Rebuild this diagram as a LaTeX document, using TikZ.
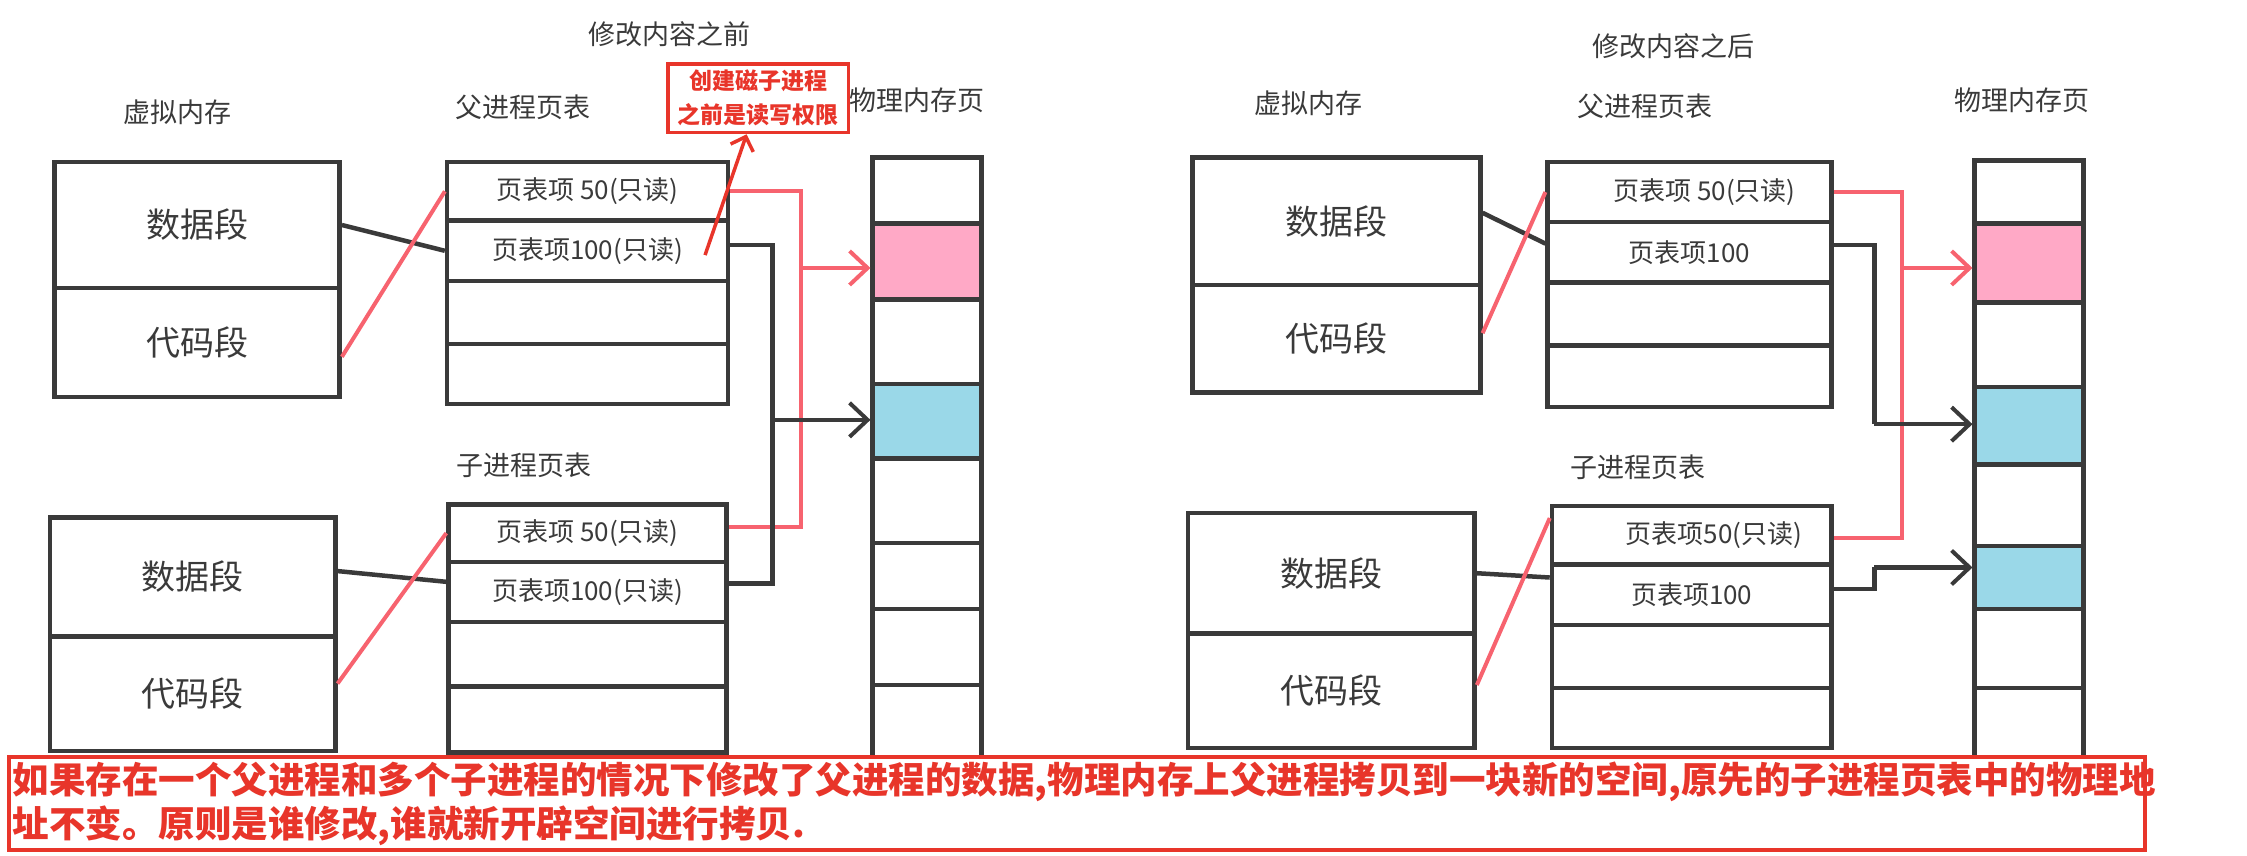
\documentclass[tikz,border=0pt]{standalone}
\usepackage{fontspec}
\setmainfont{Noto Sans CJK SC}
\usetikzlibrary{arrows.meta}
\definecolor{memink}{HTML}{3A3A3A}
\definecolor{linkred}{HTML}{F7636F}
\definecolor{notered}{HTML}{E8352A}
\definecolor{pagepink}{HTML}{FFA9C6}
\definecolor{pageblue}{HTML}{9AD8E8}
\newcommand\headfont{\fontsize{27}{32}\selectfont}
\newcommand\segfont{\fontsize{34}{38}\selectfont}
\newcommand\entryfont{\fontsize{26}{30}\selectfont}
\newcommand\notefont{\fontsize{23}{34}\selectfont\bfseries}
\newcommand\sumfont{\fontsize{36.5}{44}\selectfont\bfseries}
\tikzset{
  cell/.style={draw=memink, line width=4.5pt, inner sep=0pt, text=memink},
  head/.style={font=\headfont, text=memink},
  blackline/.style={draw=memink, line width=4.5pt},
  redline/.style={draw=linkred, line width=4pt},
  barb/.style={-{Straight Barb[length=18pt,width=34pt,line width=4pt]}}
}
\begin{document}
\begin{tikzpicture}[x=1.433pt,y=-1.433pt]
  \useasboundingbox (0,0) rectangle (1568,596.7);
  % Titles
  \node[head] (tbefore) at (467,24) {修改内容之前};
  \node[head] (tafter) at (1168,32) {修改内容之后};
  % ---------------- before ----------------
  \node[head] (hvm1) at (124,78) {虚拟内存};
  \node[head] (hpt1) at (365,75) {父进程页表};
  \node[head] (hpm1) at (640,70) {物理内存页};
  \node[head] (hct1) at (366,325) {子进程页表};
  % Virtual memory
  \node[cell, font=\segfont, minimum width=199*1.433pt, minimum height=88*1.433pt] (vd1) at (137.5,157) {数据段};
  \node[cell, font=\segfont, minimum width=199*1.433pt, minimum height=76*1.433pt] (vc1) at (137.5,239) {代码段};
  \node[cell, font=\segfont, minimum width=199*1.433pt, minimum height=83*1.433pt] (vd2) at (134.5,402.5) {数据段};
  \node[cell, font=\segfont, minimum width=199*1.433pt, minimum height=80*1.433pt] (vc2) at (134.5,484) {代码段};
  % Page tables
  \node[cell, font=\entryfont, minimum width=196*1.433pt, minimum height=41*1.433pt] (pe50) at (410,133.5) {页表项 50(只读)};
  \node[cell, font=\entryfont, minimum width=196*1.433pt, minimum height=42*1.433pt] (pe100) at (410,175) {页表项100(只读)};
  \node[cell, minimum width=196*1.433pt, minimum height=44*1.433pt] (pe3) at (410,218) {};
  \node[cell, minimum width=196*1.433pt, minimum height=42*1.433pt] (pe4) at (410,261) {};
  \node[cell, font=\entryfont, minimum width=194*1.433pt, minimum height=40*1.433pt] (ce50) at (410,372) {页表项 50(只读)};
  \node[cell, font=\entryfont, minimum width=194*1.433pt, minimum height=42*1.433pt] (ce100) at (410,413) {页表项100(只读)};
  \node[cell, minimum width=194*1.433pt, minimum height=45*1.433pt] (ce3) at (410,456.5) {};
  \node[cell, minimum width=194*1.433pt, minimum height=46*1.433pt] (ce4) at (410,502) {};
  % Physical pages
  \foreach \top/\bot/\col [count=\i] in {110/156/white,156/209/pagepink,209/268/white,268/320/pageblue,320/379/white,379/425/white,425/478/white,478/535/white}
    \node[cell, fill=\col, minimum width=76*1.433pt, minimum height={(\bot-\top)*1.433pt}] (pa\i) at (647,{(\top+\bot)/2}) {};
  % Segment links
  \draw[blackline] (vd1.east) -- (pe100.west);
  \draw[redline] ([yshift=-10*1.433pt]vc1.east) -- (pe50.west);
  \draw[blackline] ([yshift=4*1.433pt]vd2.east) -- ([yshift=7*1.433pt]ce100.west);
  \draw[redline] ([yshift=7*1.433pt]vc2.east) -- (ce50.west);
  % Page links
  \coordinate (jr1) at (559,187);
  \coordinate (jb1) at (539,293);
  \draw[redline] (pe50.east) -| (jr1) |- ([yshift=4*1.433pt]ce50.east);
  \draw[redline, barb] (jr1) -- (jr1 -| pa2.west);
  \draw[blackline] ([yshift=4*1.433pt]pe100.east) -| (jb1) |- ([yshift=6*1.433pt]ce100.east);
  \draw[blackline, barb] (jb1) -- (jb1 -| pa4.west);
  % Note
  \node[draw=notered, line width=3.5pt, font=\notefont, text=notered, align=center, inner sep=3pt, minimum width=126*1.433pt, minimum height=48*1.433pt] (note) at (529,68.5) {创建磁子进程\\之前是读写权限};
  \coordinate (ntail) at (492,178);
  \draw[draw=notered, line width=3.5pt, -{Straight Barb[length=12pt,width=24pt,line width=3.5pt]}] (ntail) -- ([xshift=-8*1.433pt]note.south);
  % ---------------- after ----------------
  \node[head] (hvm2) at (913,72) {虚拟内存};
  \node[head] (hpt2) at (1148,74) {父进程页表};
  \node[head] (hpm2) at (1411,70) {物理内存页};
  \node[head] (hct2) at (1143,326) {子进程页表};
  % Virtual memory
  \node[cell, font=\segfont, minimum width=201*1.433pt, minimum height=89*1.433pt] (wd1) at (932.5,154.5) {数据段};
  \node[cell, font=\segfont, minimum width=201*1.433pt, minimum height=75*1.433pt] (wc1) at (932.5,236.5) {代码段};
  \node[cell, font=\segfont, minimum width=200*1.433pt, minimum height=84*1.433pt] (wd2) at (929,400) {数据段};
  \node[cell, font=\segfont, minimum width=200*1.433pt, minimum height=80*1.433pt] (wc2) at (929,482) {代码段};
  % Page tables
  \node[cell, font=\entryfont, minimum width=198*1.433pt, minimum height=42*1.433pt] (qe50) at (1179,134) {\hspace{30pt}页表项 50(只读)};
  \node[cell, font=\entryfont, minimum width=198*1.433pt, minimum height=42*1.433pt] (qe100) at (1179,176) {页表项100\hspace{60pt}};
  \node[cell, minimum width=198*1.433pt, minimum height=44*1.433pt] (qe3) at (1179,219) {};
  \node[cell, minimum width=198*1.433pt, minimum height=43*1.433pt] (qe4) at (1179,262.5) {};
  \node[cell, font=\entryfont, minimum width=195*1.433pt, minimum height=41*1.433pt] (de50) at (1180.5,373.5) {\hspace{45pt}页表项50(只读)};
  \node[cell, font=\entryfont, minimum width=195*1.433pt, minimum height=42*1.433pt] (de100) at (1180.5,415) {页表项100};
  \node[cell, minimum width=195*1.433pt, minimum height=44*1.433pt] (de3) at (1180.5,458) {};
  \node[cell, minimum width=195*1.433pt, minimum height=42*1.433pt] (de4) at (1180.5,501) {};
  % Physical pages
  \foreach \top/\bot/\col [count=\i] in {112/156/white,156/211/pagepink,211/270/white,270/324/pageblue,324/381/white,381/425/pageblue,425/480/white,480/535/white}
    \node[cell, fill=\col, minimum width=76*1.433pt, minimum height={(\bot-\top)*1.433pt}] (pb\i) at (1416,{(\top+\bot)/2}) {};
  % Segment links
  \draw[blackline] ([yshift=6*1.433pt]wd1.east) -- ([yshift=6*1.433pt]qe100.west);
  \draw[redline] ([yshift=4*1.433pt]wc1.east) -- (qe50.west);
  \draw[blackline] ([yshift=0*1.433pt]wd2.east) -- ([yshift=12*1.433pt]de100.west);
  \draw[redline] ([yshift=4*1.433pt]wc2.east) -- ([yshift=12*1.433pt]de50.west);
  % Page links
  \coordinate (jr2) at (1327,187);
  \coordinate (jb2) at (1308,296);
  \coordinate (jc2) at (1308,396);
  \draw[redline] (qe50.east) -| (jr2) |- ([yshift=-2*1.433pt]de50.east);
  \draw[redline, barb] (jr2) -- (jr2 -| pb2.west);
  \draw[blackline] ([yshift=5*1.433pt]qe100.east) -| (jb2);
  \draw[blackline, barb] (jb2) -- (jb2 -| pb4.west);
  \draw[blackline] ([yshift=4*1.433pt]de100.east) -| (jc2);
  \draw[blackline, barb] (jc2) -- (jc2 -| pb6.west);
  % Summary
  \node[draw=notered, line width=3.5pt, fill=white, font=\sumfont, text=notered, align=left, anchor=north west, inner sep=4pt, text width=1485*1.433pt, minimum height=65*1.433pt] (summary) at (5,527) {如果存在一个父进程和多个子进程的情况下修改了父进程的数据,物理内存上父进程拷贝到一块新的空间,原先的子进程页表中的物理地\\址不变。原则是谁修改,谁就新开辟空间进行拷贝.};
\end{tikzpicture}
\end{document}
